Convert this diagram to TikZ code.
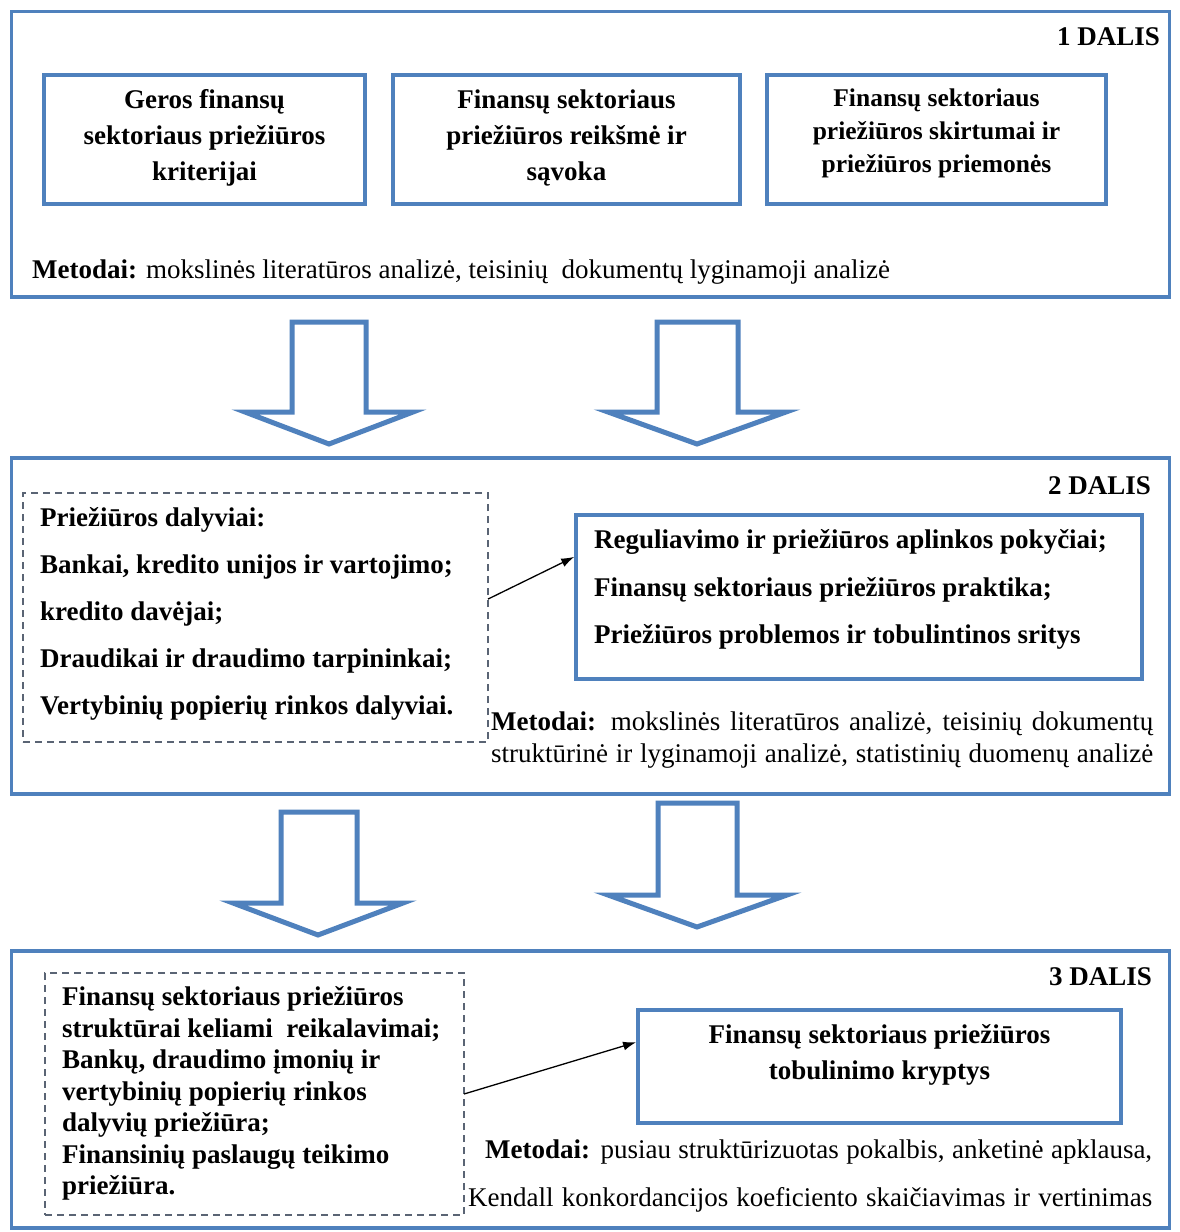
\documentclass[tikz,border=0pt]{standalone}
\usepackage{fontspec}
\setmainfont{Liberation Serif}
\usetikzlibrary{arrows.meta,calc}
\definecolor{bblue}{HTML}{4F81BD}
\definecolor{dgray}{HTML}{5A6474}
\begin{document}
\begin{tikzpicture}[x=1pt,y=-1pt,
  frame/.style={draw=bblue, line width=3.5pt, inner sep=0pt, outer sep=0pt},
  box/.style={draw=bblue, line width=4pt, fill=white, inner sep=0pt, outer sep=0pt},
  dbox/.style={draw=dgray, line width=1.1pt, dash pattern=on 7pt off 5pt, inner sep=0pt, outer sep=0pt},
  blk/.style={draw=bblue, line width=5pt, fill=white, line join=miter},
  conn/.style={draw=black, line width=1.3pt, -{Latex[length=13pt,width=9pt]}},
  bt/.style={font=\fontsize{27}{36}\selectfont\bfseries, align=center, inner sep=0pt},
  lt/.style={font=\fontsize{27}{32}\selectfont, inner sep=0pt, anchor=west},
  dal/.style={font=\fontsize{27}{32}\selectfont\bfseries, inner sep=0pt, anchor=east}
]
\useasboundingbox (0,0) rectangle (1179,1232);
\fill[white] (0,0) rectangle (1179,1232);

% frames
\node[frame, minimum width=1158pt, minimum height=285.5pt] (F1) at (590.5,154.25) {};
\node[frame, minimum width=1158pt, minimum height=336pt] (F2) at (590.5,626) {};
\node[frame, minimum width=1158pt, minimum height=277pt] (F3) at (590.5,1089.5) {};

% part 1
\node[box, minimum width=321pt, minimum height=129pt] (BA) at (204.5,139.5) {};
\node[box, minimum width=347pt, minimum height=129pt] (BB) at (566.5,139.5) {};
\node[box, minimum width=339pt, minimum height=129pt] (BC) at (936.5,139.5) {};
\node[bt] (TA) at (204.5,138) {Geros finansų\\sektoriaus priežiūros\\kriterijai};
\node[bt] (TB) at (566.5,138) {Finansų sektoriaus\\priežiūros reikšmė ir\\sąvoka};
\node[bt, font=\fontsize{25.5}{33}\selectfont\bfseries] (TC) at (936.5,133) {Finansų sektoriaus\\priežiūros skirtumai ir\\priežiūros priemonės};
\node[dal] (L1) at (1160,37) {1 DALIS};
\node[lt] (M1) at (32,272) {\textbf{Metodai:} mokslinės literatūros analizė, teisinių\ \ dokumentų lyginamoji analizė};

% block arrows 1->2
\draw[blk] (292,322) -- (366,322) -- (366,412) -- (413,412) -- (329,444) -- (245,412) -- (292,412) -- cycle;
\draw[blk] (657,322) -- (738,322) -- (738,412) -- (786,412) -- (697,444) -- (608,412) -- (657,412) -- cycle;

% part 2
\node[dbox, minimum width=465pt, minimum height=249pt] (D2) at (255.5,617.5) {};
\node[font=\fontsize{27}{47}\selectfont\bfseries, align=left, inner sep=0pt, anchor=west] (T2) at (40,614)
  {Priežiūros dalyviai:\\Bankai, kredito unijos ir vartojimo;\\kredito davėjai;\\Draudikai ir draudimo tarpininkai;\\Vertybinių popierių rinkos dalyviai.};
\node[box, minimum width=566pt, minimum height=164pt] (BD) at (859,597) {};
\node[font=\fontsize{27}{47.5}\selectfont\bfseries, align=left, inner sep=0pt, anchor=west] (TD) at (594,589.5)
  {Reguliavimo ir priežiūros aplinkos pokyčiai;\\Finansų sektoriaus priežiūros praktika;\\Priežiūros problemos ir tobulintinos sritys};
\node[dal] (L2) at (1151,486) {2 DALIS};
\node[lt] (M2a) at (491,724) {\makebox[662pt][s]{\textbf{Metodai:} mokslinės literatūros analizė, teisinių dokumentų}};
\node[lt] (M2b) at (491,756) {\makebox[662pt][s]{struktūrinė ir lyginamoji analizė, statistinių duomenų analizė}};
\coordinate (s2) at ($(D2.north east)!0.426!(D2.south east)$);
\coordinate (e2) at ($(BD.north west)!0.25!(BD.south west)$);
\draw[conn, shorten >=2pt] (s2) -- (e2);

% block arrows 2->3
\draw[blk] (281,812) -- (357,812) -- (357,903) -- (403,903) -- (318,935) -- (233,903) -- (281,903) -- cycle;
\draw[blk] (658,803) -- (737,803) -- (737,895) -- (787,895) -- (697,927) -- (608,895) -- (658,895) -- cycle;

% part 3
\node[dbox, minimum width=419pt, minimum height=242pt] (D3) at (254.5,1094) {};
\node[font=\fontsize{27}{31.5}\selectfont\bfseries, align=left, inner sep=0pt, anchor=west] (T3) at (62,1093.5)
  {Finansų sektoriaus priežiūros\\struktūrai keliami\ \ reikalavimai;\\Bankų, draudimo įmonių ir\\vertybinių popierių rinkos\\dalyvių priežiūra;\\Finansinių paslaugų teikimo\\priežiūra.};
\node[box, minimum width=483pt, minimum height=113pt] (BE) at (879.5,1066.5) {};
\node[bt] (TE) at (879.5,1055) {Finansų sektoriaus priežiūros\\tobulinimo kryptys};
\node[dal] (L3) at (1152,977) {3 DALIS};
\node[lt] (M3a) at (485,1152) {\makebox[667pt][s]{\textbf{Metodai:} pusiau struktūrizuotas pokalbis, anketinė apklausa,}};
\node[lt] (M3b) at (468,1200) {\makebox[684pt][s]{Kendall konkordancijos koeficiento skaičiavimas ir vertinimas}};
\coordinate (e3) at ($(BE.north west)!0.28!(BE.south west)$);
\draw[conn, shorten >=2pt] (D3.east) -- (e3);
\end{tikzpicture}
\end{document}
